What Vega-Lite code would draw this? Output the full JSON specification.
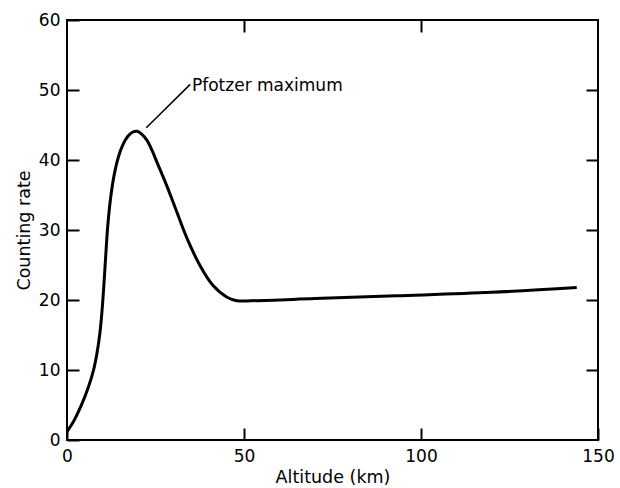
{
  "$schema": "https://vega.github.io/schema/vega-lite/v6.json",
  "width": 531,
  "height": 420,
  "autosize": {"type": "none"},
  "padding": {"left": 67, "top": 20, "right": 22, "bottom": 48},
  "background": "white",
  "config": {
    "view": {"stroke": "black", "strokeWidth": 2},
    "font": "DejaVu Sans",
    "axis": {
      "domain": false,
      "grid": false,
      "labelFlush": false,
      "tickColor": "black",
      "tickWidth": 2,
      "tickSize": -12,
      "labelColor": "black",
      "labelFont": "DejaVu Sans",
      "labelFontSize": 17,
      "titleFont": "DejaVu Sans",
      "titleFontSize": 17.5,
      "titleFontWeight": "normal",
      "titleColor": "black"
    }
  },
  "datasets": {
    "curve": [
      {"alt": 0, "rate": 1.2},
      {"alt": 2, "rate": 2.8},
      {"alt": 4, "rate": 4.9},
      {"alt": 6, "rate": 7.5},
      {"alt": 7.5, "rate": 10},
      {"alt": 8.5, "rate": 12.5},
      {"alt": 9.3, "rate": 15.3},
      {"alt": 9.9, "rate": 18.5},
      {"alt": 10.4, "rate": 22},
      {"alt": 10.9, "rate": 26},
      {"alt": 11.5, "rate": 30.5},
      {"alt": 12.3, "rate": 34.5},
      {"alt": 13.3, "rate": 37.8},
      {"alt": 14.5, "rate": 40.4},
      {"alt": 15.8, "rate": 42.2},
      {"alt": 17.2, "rate": 43.4},
      {"alt": 18.6, "rate": 44},
      {"alt": 19.8, "rate": 44.1},
      {"alt": 21.1, "rate": 43.7},
      {"alt": 22.6, "rate": 42.8},
      {"alt": 24, "rate": 41.4},
      {"alt": 25.4, "rate": 39.7},
      {"alt": 28.2, "rate": 36.3},
      {"alt": 31, "rate": 32.6},
      {"alt": 33.9, "rate": 28.8},
      {"alt": 37.6, "rate": 24.9},
      {"alt": 41.2, "rate": 22.1},
      {"alt": 45.2, "rate": 20.4},
      {"alt": 48, "rate": 19.9},
      {"alt": 52, "rate": 19.9},
      {"alt": 70, "rate": 20.2},
      {"alt": 93, "rate": 20.6},
      {"alt": 120, "rate": 21.1},
      {"alt": 144, "rate": 21.8}
    ],
    "leader": [{"x1": 22.4, "y1": 44.6, "x2": 34.8, "y2": 50.8}],
    "label": [{"x": 35.3, "y": 50.6, "text": "Pfotzer maximum"}]
  },
  "layer": [
    {
      "data": {"name": "curve"},
      "mark": {"type": "line", "color": "black", "strokeWidth": 3, "interpolate": "catmull-rom"},
      "encoding": {
        "x": {"field": "alt", "type": "quantitative", "scale": {"domain": [0, 150], "nice": false},
              "axis": {"orient": "bottom", "values": [0, 50, 100, 150], "title": "Altitude (km)", "labelPadding": 20, "titlePadding": 4}},
        "y": {"field": "rate", "type": "quantitative", "scale": {"domain": [0, 60], "nice": false},
              "axis": {"orient": "left", "values": [0, 10, 20, 30, 40, 50, 60], "title": "Counting rate", "labelPadding": 19, "titlePadding": 5}}
      }
    },
    {
      "data": {"name": "leader"},
      "mark": {"type": "rule", "color": "black", "strokeWidth": 1.5},
      "encoding": {
        "x": {"field": "x1", "type": "quantitative", "axis": {"orient": "top", "values": [50, 100], "labels": false, "title": null}},
        "y": {"field": "y1", "type": "quantitative", "axis": {"orient": "right", "values": [10, 20, 30, 40, 50], "labels": false, "title": null}},
        "x2": {"field": "x2"},
        "y2": {"field": "y2"}
      }
    },
    {
      "data": {"name": "label"},
      "mark": {"type": "text", "align": "left", "baseline": "middle", "fontSize": 17, "font": "DejaVu Sans", "color": "black"},
      "encoding": {
        "x": {"field": "x", "type": "quantitative", "axis": null},
        "y": {"field": "y", "type": "quantitative", "axis": null},
        "text": {"field": "text"}
      }
    }
  ],
  "resolve": {"axis": {"x": "independent", "y": "independent"}}
}
